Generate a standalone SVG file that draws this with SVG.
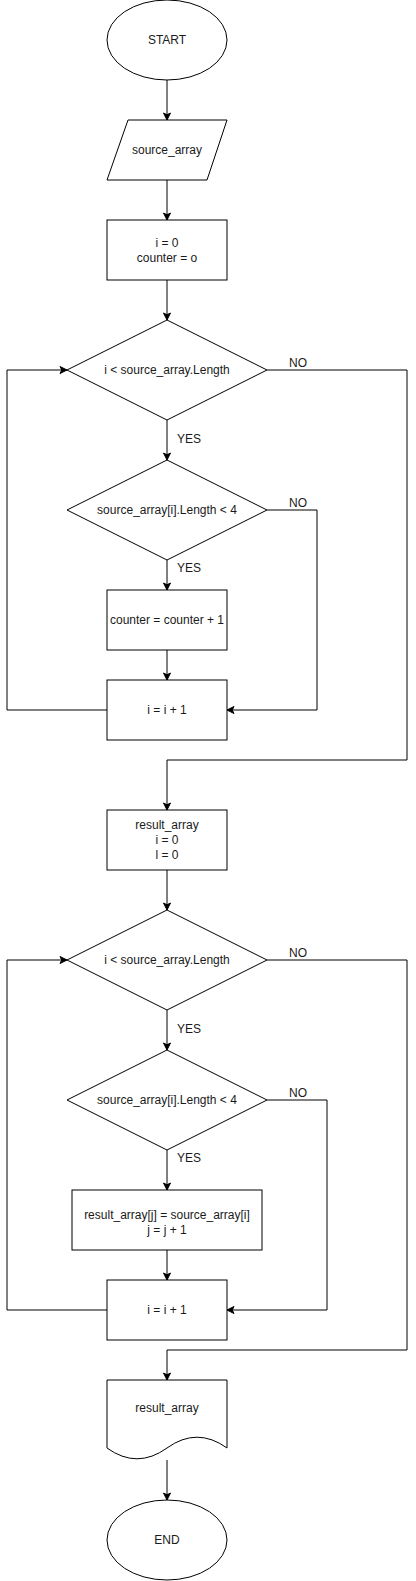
<svg xmlns="http://www.w3.org/2000/svg" width="416" height="1581" viewBox="0 0 416 1581">
<style>
.s{fill:#fff;stroke:#000;stroke-width:1}
.c{fill:none;stroke:#000;stroke-width:1}
text{font-family:"Liberation Sans",Arial,sans-serif;font-size:12px;fill:#1a1a1a}
.m{text-anchor:middle;dominant-baseline:central}
.l{dominant-baseline:central}
</style>
<defs>
<marker id="a" markerUnits="userSpaceOnUse" markerWidth="8" markerHeight="8" refX="7" refY="3.5" orient="auto" overflow="visible">
<path d="M0,0 L7,3.5 L0,7 L1.75,3.5 Z" fill="#000" stroke="#000" stroke-width="1"/>
</marker>
</defs>
<rect width="416" height="1581" fill="#fff"/>
<g id="connectors">
<path class="c" d="M167,80 V120" marker-end="url(#a)"/>
<path class="c" d="M167,180 V220" marker-end="url(#a)"/>
<path class="c" d="M167,280 V320" marker-end="url(#a)"/>
<path class="c" d="M167,420 V460" marker-end="url(#a)"/>
<path class="c" d="M167,560 V590" marker-end="url(#a)"/>
<path class="c" d="M167,650 V680" marker-end="url(#a)"/>
<path class="c" d="M107,710 H7 V370 H67" marker-end="url(#a)"/>
<path class="c" d="M267,510 H317 V710 H227" marker-end="url(#a)"/>
<path class="c" d="M267,370 H407 V760 H167 V810" marker-end="url(#a)"/>
<path class="c" d="M167,870 V910" marker-end="url(#a)"/>
<path class="c" d="M167,1010 V1050" marker-end="url(#a)"/>
<path class="c" d="M167,1150 V1190" marker-end="url(#a)"/>
<path class="c" d="M167,1250 V1280" marker-end="url(#a)"/>
<path class="c" d="M107,1310 H7 V960 H67" marker-end="url(#a)"/>
<path class="c" d="M267,1100 H327 V1310 H227" marker-end="url(#a)"/>
<path class="c" d="M267,960 H407 V1350 H167 V1380" marker-end="url(#a)"/>
<path class="c" d="M167,1460 V1500" marker-end="url(#a)"/>
<text class="l" x="289" y="362.5">NO</text>
<text class="l" x="177" y="439">YES</text>
<text class="l" x="289" y="502.5">NO</text>
<text class="l" x="177" y="568">YES</text>
<text class="l" x="289" y="952.5">NO</text>
<text class="l" x="177" y="1029">YES</text>
<text class="l" x="289" y="1092.5">NO</text>
<text class="l" x="177" y="1158">YES</text>
</g>
<g id="start">
<ellipse class="s" cx="167" cy="40" rx="60" ry="40"/>
<text class="m" x="167" y="40">START</text>
</g>
<g id="input">
<path class="s" d="M128,120 H227 L207,180 H107 Z"/>
<text class="m" x="167" y="150">source_array</text>
</g>
<g id="init1">
<rect class="s" x="107" y="220" width="120" height="60"/>
<text class="m" x="167" y="243">i = 0</text>
<text class="m" x="167" y="258">counter = o</text>
</g>
<g id="cond1">
<path class="s" d="M167,320 L267,370 L167,420 L67,370 Z"/>
<text class="m" x="167" y="370">i &lt; source_array.Length</text>
</g>
<g id="cond2">
<path class="s" d="M167,460 L267,510 L167,560 L67,510 Z"/>
<text class="m" x="167" y="510">source_array[i].Length &lt; 4</text>
</g>
<g id="count">
<rect class="s" x="107" y="590" width="120" height="60"/>
<text class="m" x="167" y="620">counter = counter + 1</text>
</g>
<g id="inc1">
<rect class="s" x="107" y="680" width="120" height="60"/>
<text class="m" x="167" y="710">i = i + 1</text>
</g>
<g id="init2">
<rect class="s" x="107" y="810" width="120" height="60"/>
<text class="m" x="167" y="825">result_array</text>
<text class="m" x="167" y="840">i = 0</text>
<text class="m" x="167" y="855">l = 0</text>
</g>
<g id="cond3">
<path class="s" d="M167,910 L267,960 L167,1010 L67,960 Z"/>
<text class="m" x="167" y="960">i &lt; source_array.Length</text>
</g>
<g id="cond4">
<path class="s" d="M167,1050 L267,1100 L167,1150 L67,1100 Z"/>
<text class="m" x="167" y="1100">source_array[i].Length &lt; 4</text>
</g>
<g id="assign">
<rect class="s" x="72" y="1190" width="190" height="60"/>
<text class="m" x="167" y="1215">result_array[j] = source_array[i]</text>
<text class="m" x="167" y="1230">j = j + 1</text>
</g>
<g id="inc2">
<rect class="s" x="107" y="1280" width="120" height="60"/>
<text class="m" x="167" y="1310">i = i + 1</text>
</g>
<g id="output">
<path class="s" d="M107,1380 H227 V1448 Q197,1426.4 167,1448 Q137,1469.6 107,1448 Z"/>
<text class="m" x="167" y="1408">result_array</text>
</g>
<g id="end">
<ellipse class="s" cx="167" cy="1540" rx="60" ry="40"/>
<text class="m" x="167" y="1540">END</text>
</g>
</svg>
